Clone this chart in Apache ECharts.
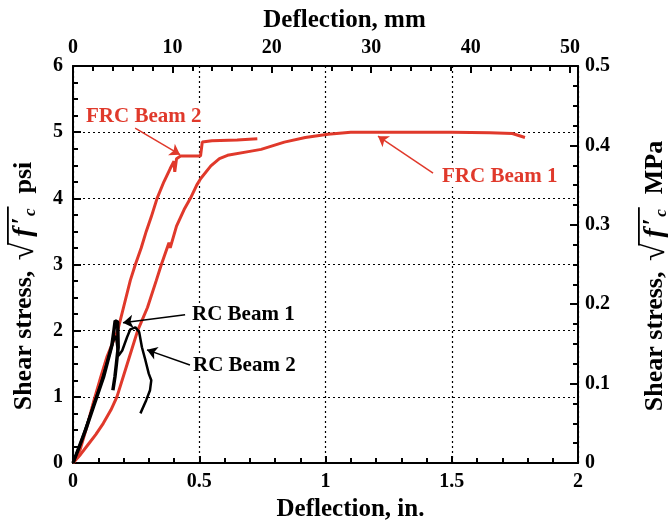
<!DOCTYPE html>
<html>
<head>
<meta charset="utf-8">
<script src="https://cdn.jsdelivr.net/npm/echarts@6/dist/echarts.min.js"></script>
<style>
  html, body { margin: 0; padding: 0; background: #fff; }
  #chart { width: 669px; height: 524px; }
</style>
</head>
<body>
<div id="chart"></div>
<script>
// deflection (in.), shear stress (sqrt(f'c) psi)
const frcBeam1 = [
  [0, 0], [0.03, 0.13], [0.06, 0.28], [0.09, 0.43], [0.12, 0.6], [0.15, 0.8], [0.174, 1.0],
  [0.215, 1.5], [0.256, 2.0], [0.295, 2.35], [0.33, 2.76], [0.35, 3.0],
  [0.38, 3.33], [0.385, 3.25], [0.41, 3.58], [0.44, 3.83], [0.465, 4.0],
  [0.49, 4.2], [0.506, 4.3], [0.546, 4.49], [0.58, 4.6], [0.612, 4.65],
  [0.7, 4.71], [0.745, 4.74], [0.837, 4.85], [0.92, 4.92], [1.01, 4.97],
  [1.1, 5.0], [1.3, 5.0], [1.5, 5.0], [1.65, 4.99], [1.74, 4.98], [1.79, 4.92]
];
const frcBeam2 = [
  [0, 0], [0.028, 0.2], [0.055, 0.55], [0.081, 0.92], [0.11, 1.3], [0.134, 1.6],
  [0.177, 2.0], [0.2, 2.35], [0.227, 2.76], [0.247, 3.0], [0.27, 3.25],
  [0.29, 3.5], [0.31, 3.72], [0.333, 4.0], [0.36, 4.25], [0.385, 4.45],
  [0.4, 4.56], [0.403, 4.4], [0.41, 4.6], [0.426, 4.64], [0.505, 4.64],
  [0.512, 4.85], [0.55, 4.87], [0.65, 4.88], [0.73, 4.9]
];
const rcBeam1 = [
  [0, 0], [0.02, 0.2], [0.05, 0.5], [0.081, 0.85], [0.121, 1.3], [0.154, 1.78],
  [0.162, 2.0], [0.167, 2.15], [0.177, 2.13], [0.179, 1.75], [0.172, 1.5],
  [0.166, 1.3], [0.158, 1.1]
];
const rcBeam2 = [
  [0, 0], [0.03, 0.3], [0.07, 0.75], [0.11, 1.2], [0.145, 1.65], [0.16, 1.85],
  [0.17, 1.92], [0.18, 1.62], [0.195, 1.7], [0.214, 1.9], [0.227, 2.02],
  [0.247, 2.05], [0.262, 1.98], [0.273, 1.75], [0.287, 1.55], [0.3, 1.35],
  [0.31, 1.25], [0.305, 1.1], [0.29, 0.95], [0.267, 0.75]
];
// annotation arrows [from, to]
const arrowFrc1 = [[1.426, 4.38], [1.208, 4.94]];
const arrowFrc2 = [[0.246, 5.06], [0.424, 4.66]];
const arrowRc1 = [[0.444, 2.24], [0.198, 2.12]];
const arrowRc2 = [[0.463, 1.48], [0.293, 1.71]];

const inchTicks = [0, 0.5, 1, 1.5, 2];
const mmTicks = [0, 10, 20, 30, 40, 50];

const RED = '#e0392b';
const FONT = 'Liberation Serif';

const chart = echarts.init(document.getElementById('chart'));

const labelStyle = { color: '#000', fontFamily: FONT, fontWeight: 'bold', fontSize: 20 };
const nameStyle = { color: '#000', fontFamily: FONT, fontWeight: 'bold', fontSize: 25 };
const axisLine = { show: true, onZero: false, lineStyle: { color: '#000', width: 2 } };
const tick = (len) => ({ show: true, inside: true, length: len, lineStyle: { color: '#000', width: 2 } });
const minor = (n) => ({ show: true, splitNumber: n, length: 5, lineStyle: { color: '#000', width: 2 } });
const grid = { show: true, lineStyle: { color: '#000', width: 1.2, type: [2, 3] } };

function arrow(pts, color) {
  return {
    silent: true,
    symbol: ['none', 'arrow'],
    symbolSize: 10,
    label: { show: false },
    lineStyle: { color: color, width: 1.5, type: 'solid' },
    data: [[{ coord: pts[0] }, { coord: pts[1] }]]
  };
}

// vertical axis title: Shear stress, sqrt(f'c) unit  (laid out piece by piece)
const measure = document.createElement('canvas').getContext('2d');
function textWidth(text, font) {
  measure.font = font;
  return measure.measureText(text).width;
}
function stressTitle(unit, cx, cy) {
  const pieces = [
    { text: 'Shear stress, ', font: 'bold 26px ' + FONT, dy: 0, gap: 0 },
    { text: '√', font: 'bold 32px ' + FONT, dy: 1, gap: 4 },
    { text: 'f', font: 'italic bold 28px ' + FONT, dy: 0, gap: 6 },
    { text: '′', font: 'bold 26px ' + FONT, dy: -2, gap: 3 },
    { text: 'c', font: 'italic bold 17px ' + FONT, dy: 7, gap: 1 },
    { text: unit, font: 'bold 26px ' + FONT, dy: 0, gap: 15 }
  ];
  let pos = 0;
  pieces.forEach((p) => {
    pos += p.gap;
    p.x = pos;
    p.w = textWidth(p.text, p.font);
    pos += p.w;
  });
  const shift = -pos / 2;
  const children = pieces.map((p) => ({
    type: 'text', x: p.x + shift, y: p.dy,
    style: { text: p.text, font: p.font, fill: '#000', align: 'left', verticalAlign: 'middle' }
  }));
  // vinculum over f'c
  children.push({
    type: 'rect', z: 100,
    shape: { x: pieces[1].x + pieces[1].w + shift - 2, y: -17, width: pieces[4].x + pieces[4].w - pieces[1].x - pieces[1].w + 4, height: 1.8 },
    style: { fill: '#000' }
  });
  return { type: 'group', x: cx, y: cy, rotation: Math.PI / 2, children: children };
}

function note(text, x, y, color, size) {
  return {
    type: 'text', left: x, top: y, z: 50,
    style: {
      text: text, fill: color, font: 'bold ' + size + 'px ' + FONT,
      backgroundColor: '#fff', padding: [0, 2]
    }
  };
}

chart.setOption({
  animation: false,
  backgroundColor: '#fff',
  grid: { left: 73, right: 91, top: 66, bottom: 61, outerBoundsMode: 'none', containLabel: false },
  xAxis: [
    {
      type: 'value', position: 'bottom', min: 0, max: 2, interval: 0.5,
      name: 'Deflection, in.', nameLocation: 'middle', nameGap: 31,
      nameTextStyle: Object.assign({ padding: [0, 0, 0, 50] }, nameStyle),
      axisLine: axisLine, axisTick: tick(7), minorTick: minor(5), splitLine: grid,
      axisLabel: Object.assign({ margin: 9, formatter: (v) => inchTicks.includes(v) ? String(v) : '' }, labelStyle)
    },
    {
      type: 'value', position: 'top', min: 0, max: 50.8, interval: 10,
      name: 'Deflection, mm', nameLocation: 'middle', nameGap: 31,
      nameTextStyle: Object.assign({ padding: [0, 0, 0, 38] }, nameStyle),
      axisLine: axisLine, axisTick: tick(7), minorTick: minor(5), splitLine: { show: false },
      axisLabel: Object.assign({ margin: 8, showMaxLabel: false, formatter: (v) => mmTicks.includes(v) ? String(v) : '' }, labelStyle)
    }
  ],
  yAxis: [
    {
      type: 'value', position: 'left', min: 0, max: 6, interval: 1,
      axisLine: axisLine, axisTick: tick(8), minorTick: minor(4), splitLine: grid,
      axisLabel: Object.assign({ margin: 10 }, labelStyle)
    },
    {
      type: 'value', position: 'right', min: 0, max: 0.5, interval: 0.1,
      axisLine: axisLine, axisTick: tick(8), minorTick: minor(4), splitLine: { show: false },
      axisLabel: Object.assign({ margin: 7, formatter: (v) => v === 0 ? '0' : v.toFixed(1) }, labelStyle)
    }
  ],
  graphic: [
    stressTitle('psi', 24, 286),
    stressTitle('MPa', 655, 276),
    note('FRC Beam 2', 84, 106, RED, 21),
    note('FRC Beam 1', 440, 166, RED, 21),
    note('RC Beam 1', 190, 304, '#000', 21),
    note('RC Beam 2', 191, 355, '#000', 21)
  ],
  series: [
    {
      name: 'FRC Beam 1', type: 'line', data: frcBeam1, showSymbol: false,
      lineStyle: { color: RED, width: 3 }, markLine: arrow(arrowFrc1, RED)
    },
    {
      name: 'FRC Beam 2', type: 'line', data: frcBeam2, showSymbol: false,
      lineStyle: { color: RED, width: 3 }, markLine: arrow(arrowFrc2, RED)
    },
    {
      name: 'RC Beam 1', type: 'line', data: rcBeam1, showSymbol: false,
      lineStyle: { color: '#000', width: 3.5 }, markLine: arrow(arrowRc1, '#000')
    },
    {
      name: 'RC Beam 2', type: 'line', data: rcBeam2, showSymbol: false,
      lineStyle: { color: '#000', width: 2.5 }, markLine: arrow(arrowRc2, '#000')
    }
  ]
});
</script>
</body>
</html>
